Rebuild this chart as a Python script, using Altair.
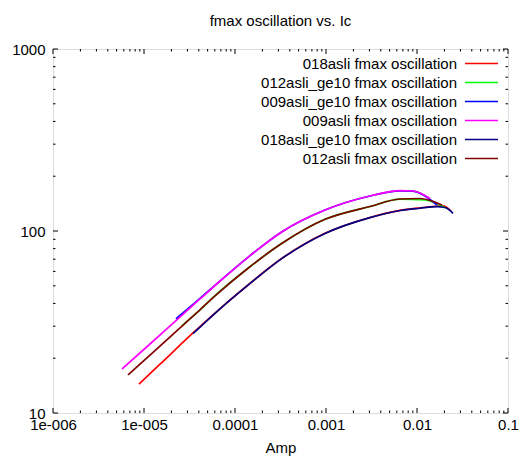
import altair as alt
import pandas as pd

FONT = "Liberation Sans"
FS = 15
W, H = 455, 364

chart_title = "fmax oscillation vs. Ic"
x_title = "Amp"

series_names = [
    "018asli fmax oscillation",
    "012asli_ge10 fmax oscillation",
    "009asli_ge10 fmax oscillation",
    "009asli fmax oscillation",
    "018asli_ge10 fmax oscillation",
    "012asli fmax oscillation",
]
series_colors = ["#ff0000", "#00ff00", "#0000ff", "#ff00ff", "#000080", "#800000"]

amp_018asli = [8.81e-6, 1.499e-5, 3.455e-5, 6.03e-5, 1.389e-4, 3.285e-4, 9.75e-4, 3.045e-3, 6.51e-3, 1.079e-2, 1.499e-2, 1.931e-2, 2.364e-2]
fmax_018asli = [14.43, 18.54, 27.52, 35.43, 50.5, 70.8, 97.1, 118.7, 129.9, 134.0, 136.3, 137.6, 128.8]

amp_012asli_ge10 = [2.616e-5, 4.124e-5, 6.03e-5, 1.389e-4, 3.285e-4, 9.75e-4, 3.045e-3, 6.51e-3, 1.224e-2, 2.083e-2]
fmax_012asli_ge10 = [30.2, 36.9, 44.1, 62.4, 85.6, 115.9, 136.3, 149.5, 148.0, 133.8]

amp_009asli_ge10 = [2.247e-5, 4.124e-5, 6.67e-5, 1.389e-4, 3.285e-4, 9.75e-4, 3.045e-3, 6.51e-3, 9.04e-3, 1.224e-2, 1.659e-2]
fmax_009asli_ge10 = [32.9, 42.6, 52.6, 71.7, 99.1, 130.4, 155.7, 166.3, 165.5, 155.7, 138.9]

amp_009asli = [5.73e-6, 1.164e-5, 2.247e-5, 4.124e-5, 6.67e-5, 1.389e-4, 3.285e-4, 9.75e-4, 3.045e-3, 6.51e-3, 9.04e-3, 1.135e-2, 1.39e-2]
fmax_009asli = [17.45, 23.94, 32.19, 42.31, 52.45, 71.7, 99.1, 130.4, 155.7, 166.5, 165.9, 159.7, 150.9]

amp_018asli_ge10 = [3.455e-5, 6.03e-5, 1.389e-4, 3.285e-4, 9.75e-4, 3.045e-3, 6.51e-3, 1.079e-2, 1.659e-2, 2.031e-2, 2.487e-2]
fmax_018asli_ge10 = [27.3, 35.3, 50.4, 70.7, 97.0, 118.5, 129.6, 133.4, 136.0, 134.6, 125.1]

amp_012asli = [6.67e-6, 1.164e-5, 2.616e-5, 4.124e-5, 6.03e-5, 1.389e-4, 3.285e-4, 9.75e-4, 3.045e-3, 6.51e-3, 1.079e-2, 1.462e-2, 1.883e-2]
fmax_012asli = [16.18, 20.80, 30.02, 36.9, 43.95, 62.4, 85.6, 115.9, 136.3, 149.9, 150.9, 146.2, 138.9]

series_amp = [amp_018asli, amp_012asli_ge10, amp_009asli_ge10, amp_009asli, amp_018asli_ge10, amp_012asli]
series_fmax = [fmax_018asli, fmax_012asli_ge10, fmax_009asli_ge10, fmax_009asli, fmax_018asli_ge10, fmax_012asli]

x_tick_values = [1e-6, 1e-5, 1e-4, 1e-3, 1e-2, 1e-1]
x_tick_labels = ["1e-006", "1e-005", "0.0001", "0.001", "0.01", "0.1"]
y_tick_values = [10, 100, 1000]
y_tick_labels = ["10", "100", "1000"]

x_minor = [m * d for d in x_tick_values[:-1] for m in range(2, 10)]
y_minor = [m * d for d in y_tick_values[:-1] for m in range(2, 10)]


def label_expr(values, labels):
    expr = "''"
    for v, l in reversed(list(zip(values, labels))):
        expr = f"datum.value < {v * 1.5} ? '{l}' : ({expr})"
    return expr


x_scale = alt.Scale(type="log", domain=[1e-6, 0.1], nice=False)
y_scale = alt.Scale(type="log", domain=[10, 1000], nice=False)

x_axis = alt.Axis(
    values=x_tick_values, labelExpr=label_expr(x_tick_values, x_tick_labels),
    ticks=False, domain=False, grid=False, labelFlush=False, labelOverlap=False,
    labelPadding=4, labelFont=FONT, labelFontSize=FS, labelColor="black",
    title=x_title, titleFont=FONT, titleFontSize=FS, titleFontWeight="normal",
    titleColor="black", titlePadding=8,
)
y_axis = alt.Axis(
    values=y_tick_values, labelExpr=label_expr(y_tick_values, y_tick_labels),
    ticks=False, domain=False, grid=False, labelFlush=False, labelOverlap=False,
    labelPadding=8, labelFont=FONT, labelFontSize=FS, labelColor="black",
    title=None,
)

layers = []

# tick marks (inward, mirrored)
def tick_layers(values, length):
    df = pd.DataFrame({"v": values})
    xs = alt.X("v:Q", scale=x_scale, axis=x_axis)
    ys = alt.Y("v:Q", scale=y_scale, axis=y_axis)
    base = alt.Chart(df).mark_rule(color="black", strokeWidth=1)
    return [
        base.encode(x=xs, y=alt.value(H), y2=alt.value(H - length)),
        base.encode(x=xs, y=alt.value(0), y2=alt.value(length)),
    ], [
        base.encode(y=ys, x=alt.value(0), x2=alt.value(length)),
        base.encode(y=ys, x=alt.value(W), x2=alt.value(W - length)),
    ]

for vals_x, vals_y, ln in [(x_tick_values, y_tick_values, 5), (x_minor, y_minor, 2.5)]:
    xl, _ = tick_layers(vals_x, ln)
    _, yl = tick_layers(vals_y, ln)
    layers += xl + yl

# data lines, drawn in legend order
for name, color, xs, ys in zip(series_names, series_colors, series_amp, series_fmax):
    df = pd.DataFrame({"amp": xs, "fmax": ys, "series": name})
    layers.append(
        alt.Chart(df).mark_line(color=color, strokeWidth=1.7, interpolate="monotone").encode(
            x=alt.X("amp:Q", scale=x_scale, axis=x_axis),
            y=alt.Y("fmax:Q", scale=y_scale, axis=y_axis),
        )
    )

# key (gnuplot style: label then line sample)
for i, (name, color) in enumerate(zip(series_names, series_colors)):
    yy = 14.5 + 19 * i
    layers.append(
        alt.Chart(pd.DataFrame({"label": [name]})).mark_text(
            align="right", baseline="middle", font=FONT, fontSize=FS, color="black"
        ).encode(x=alt.value(404), y=alt.value(yy), text="label:N")
    )
    layers.append(
        alt.Chart(pd.DataFrame({"label": [name]})).mark_rule(color=color, strokeWidth=1.7).encode(
            x=alt.value(412), x2=alt.value(445), y=alt.value(yy)
        )
    )

chart = alt.layer(*layers).properties(
    width=W, height=H,
    title=alt.TitleParams(chart_title, font=FONT, fontSize=FS, fontWeight="normal",
                          color="black", anchor="middle", baseline="bottom", offset=-2),
    autosize=alt.AutoSizeParams(type="none"),
    padding={"left": 53, "top": 49, "right": 20, "bottom": 56},
).configure_view(stroke="black", strokeWidth=1).configure(background="white")

chart.save("out.html", embed_options={"renderer": "svg", "actions": False})
